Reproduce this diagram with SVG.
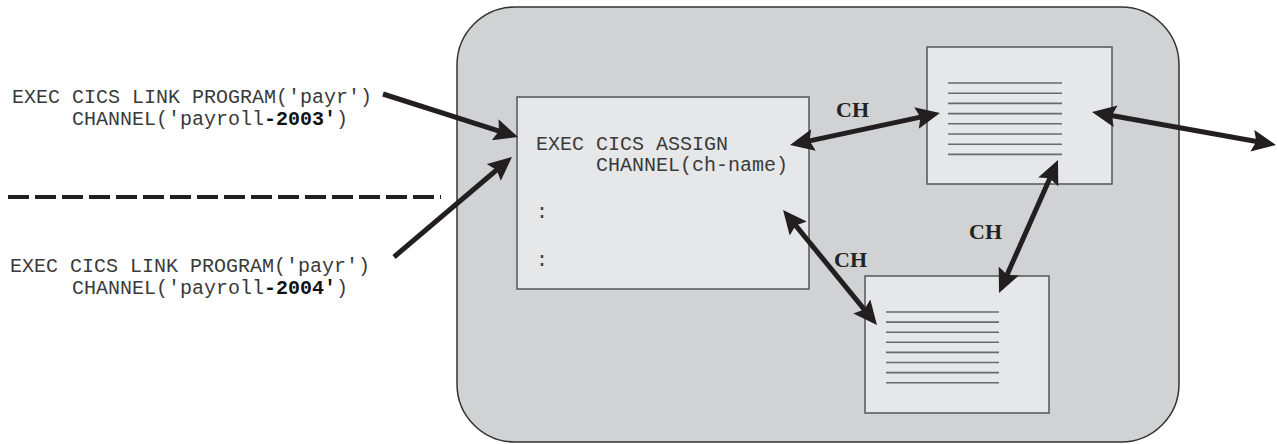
<svg xmlns="http://www.w3.org/2000/svg" width="1277" height="444" viewBox="0 0 1277 444">
<style>
.code{font-family:"Liberation Mono","Courier New",monospace;font-size:20px;fill:#3a3a3a}
.b{font-weight:bold;fill:#111}
.ch{font-family:"Liberation Serif","DejaVu Serif",serif;font-weight:bold;font-size:22px;fill:#222}
.box{fill:#e6e7e8;stroke:#555;stroke-width:1.5}
.dl{stroke:#6a6a6a;stroke-width:1.6}
.arr{stroke:#231f20;stroke-width:5;fill:none}
</style>
<defs>
<marker id="ah" markerUnits="userSpaceOnUse" markerWidth="26" markerHeight="22" refX="10" refY="11" orient="auto-start-reverse">
<path d="M0,0 L24,11 L0,22 L4,11 z" fill="#231f20"/>
</marker>
</defs>
<g id="container">
<rect x="457" y="7" width="722" height="435" rx="58" ry="58" fill="#d1d2d4" stroke="#333" stroke-width="1.5"/>
</g>
<g id="caller1">
<text class="code" x="12" y="103">EXEC CICS LINK PROGRAM('payr')</text>
<text class="code" x="72" y="125">CHANNEL('payroll<tspan class="b">-2003'</tspan>)</text>
</g>
<g id="separator">
<line x1="8" y1="197" x2="441" y2="197" stroke="#231f20" stroke-width="4" stroke-dasharray="21,6"/>
</g>
<g id="caller2">
<text class="code" x="10" y="272">EXEC CICS LINK PROGRAM('payr')</text>
<text class="code" x="72" y="294">CHANNEL('payroll<tspan class="b">-2004'</tspan>)</text>
</g>
<g id="program">
<rect class="box" x="517" y="97" width="292" height="192"/>
<text class="code" x="536" y="150">EXEC CICS ASSIGN</text>
<text class="code" x="596" y="171">CHANNEL(ch-name)</text>
<text class="code" x="536" y="218">:</text>
<text class="code" x="536" y="266">:</text>
</g>
<g id="container1">
<rect class="box" x="927" y="47" width="185" height="137"/>
<g class="dl">
<line x1="948" y1="83" x2="1062" y2="83"/>
<line x1="948" y1="93.2" x2="1062" y2="93.2"/>
<line x1="948" y1="103.4" x2="1062" y2="103.4"/>
<line x1="948" y1="113.6" x2="1062" y2="113.6"/>
<line x1="948" y1="123.8" x2="1062" y2="123.8"/>
<line x1="948" y1="134" x2="1062" y2="134"/>
<line x1="948" y1="144.2" x2="1062" y2="144.2"/>
<line x1="948" y1="154.4" x2="1062" y2="154.4"/>
</g>
</g>
<g id="container2">
<rect class="box" x="865" y="276" width="184" height="137"/>
<g class="dl">
<line x1="886" y1="312" x2="999" y2="312"/>
<line x1="886" y1="322.1" x2="999" y2="322.1"/>
<line x1="886" y1="332.2" x2="999" y2="332.2"/>
<line x1="886" y1="342.3" x2="999" y2="342.3"/>
<line x1="886" y1="352.4" x2="999" y2="352.4"/>
<line x1="886" y1="362.5" x2="999" y2="362.5"/>
<line x1="886" y1="372.6" x2="999" y2="372.6"/>
<line x1="886" y1="382.7" x2="999" y2="382.7"/>
</g>
</g>
<g id="connectors">
<line class="arr" x1="383" y1="94" x2="504.7" y2="132.8" marker-end="url(#ah)"/>
<line class="arr" x1="394" y1="257" x2="501.3" y2="166" marker-end="url(#ah)"/>
<line class="arr" x1="803.7" y1="142.1" x2="926.3" y2="115.9" marker-start="url(#ah)" marker-end="url(#ah)"/>
<line class="arr" x1="1105.8" y1="114.5" x2="1262.2" y2="142.5" marker-start="url(#ah)" marker-end="url(#ah)"/>
<line class="arr" x1="1052.3" y1="172.8" x2="1004.7" y2="280.2" marker-start="url(#ah)" marker-end="url(#ah)"/>
<line class="arr" x1="791.9" y1="220.8" x2="868.1" y2="314.2" marker-start="url(#ah)" marker-end="url(#ah)"/>
<text class="ch" x="836" y="117">CH</text>
<text class="ch" x="834" y="267">CH</text>
<text class="ch" x="969" y="239">CH</text>
</g>
</svg>
